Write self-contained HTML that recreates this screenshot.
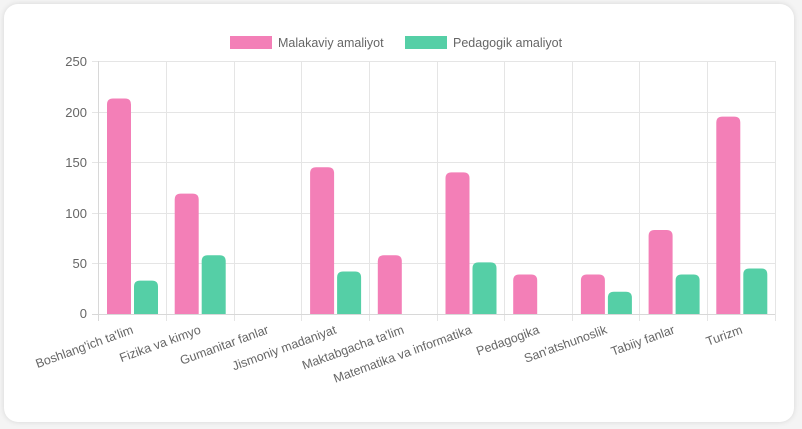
<!DOCTYPE html>
<html><head><style>
body{margin:0;background:#f4f4f4;width:802px;height:429px;overflow:hidden;font-family:"Liberation Sans",sans-serif}
.card{position:absolute;left:4px;top:4px;width:790px;height:418px;background:#fff;border-radius:14px;box-shadow:0 0 6px rgba(0,0,0,0.12)}
svg{position:absolute;left:0;top:0}
</style></head><body>
<div class="card"></div>
<svg width="802" height="429" font-family="Liberation Sans, sans-serif" font-size="12" fill="#666">
<g stroke="#e5e5e5" stroke-width="1">
<line x1="98" y1="61.5" x2="775" y2="61.5"/><line x1="98" y1="112.5" x2="775" y2="112.5"/>
<line x1="98" y1="162.5" x2="775" y2="162.5"/><line x1="98" y1="213.5" x2="775" y2="213.5"/>
<line x1="98" y1="263.5" x2="775" y2="263.5"/>
<line x1="92" y1="61.5" x2="98" y2="61.5"/><line x1="92" y1="112.5" x2="98" y2="112.5"/><line x1="92" y1="162.5" x2="98" y2="162.5"/><line x1="92" y1="213.5" x2="98" y2="213.5"/><line x1="92" y1="263.5" x2="98" y2="263.5"/>
<line x1="166.5" y1="61" x2="166.5" y2="321"/><line x1="234.5" y1="61" x2="234.5" y2="321"/><line x1="301.5" y1="61" x2="301.5" y2="321"/><line x1="369.5" y1="61" x2="369.5" y2="321"/><line x1="437.5" y1="61" x2="437.5" y2="321"/><line x1="504.5" y1="61" x2="504.5" y2="321"/><line x1="572.5" y1="61" x2="572.5" y2="321"/><line x1="639.5" y1="61" x2="639.5" y2="321"/><line x1="707.5" y1="61" x2="707.5" y2="321"/><line x1="775.5" y1="61" x2="775.5" y2="321"/>
</g>
<g stroke="#d8d8d8"><line x1="98.5" y1="61" x2="98.5" y2="321"/><line x1="92" y1="314.5" x2="775" y2="314.5"/></g>
<g text-anchor="end" font-size="13">
<text x="87" y="66">250</text><text x="87" y="117">200</text><text x="87" y="167">150</text><text x="87" y="218">100</text><text x="87" y="268">50</text><text x="87" y="318">0</text>
</g>
<g id="bars"></g>
<rect x="230" y="36" width="42" height="13" fill="#f37fb7"/><text x="278" y="47" font-size="12.5">Malakaviy amaliyot</text>
<rect x="405" y="36" width="42" height="13" fill="#55cfa6"/><text x="453" y="47" font-size="12.5">Pedagogik amaliyot</text>
<g id="lbl" font-size="12.5" text-anchor="end"></g>
</svg>
<script>
var names=["Boshlang'ich ta'lim","Fizika va kimyo","Gumanitar fanlar","Jismoniy madaniyat","Maktabgacha ta'lim","Matematika va informatika","Pedagogika","San'atshunoslik","Tabiiy fanlar","Turizm"];
var a=[213,119,0,145,58,140,39,39,83,195],b=[33,58,0,42,0,51,0,22,39,45];
var ns="http://www.w3.org/2000/svg",g=document.getElementById('bars'),l=document.getElementById('lbl');
function bar(x,v,c){if(!v)return;var h=v*1.012,y=314-h,w=24,r=6;var p=document.createElementNS(ns,'path');
p.setAttribute('d','M'+x+',314V'+(y+r)+'Q'+x+','+y+' '+(x+r)+','+y+'H'+(x+w-r)+'Q'+(x+w)+','+y+' '+(x+w)+','+(y+r)+'V314Z');p.setAttribute('fill',c);g.appendChild(p);}
for(var i=0;i<10;i++){var x0=98+i*67.7;bar(x0+9,a[i],'#f37fb7');bar(x0+36,b[i],'#55cfa6');
var t=document.createElementNS(ns,'text');var cx=x0+36;t.setAttribute('transform','translate('+cx+',333) rotate(-20)');t.textContent=names[i];l.appendChild(t);}
</script>
</body></html>
